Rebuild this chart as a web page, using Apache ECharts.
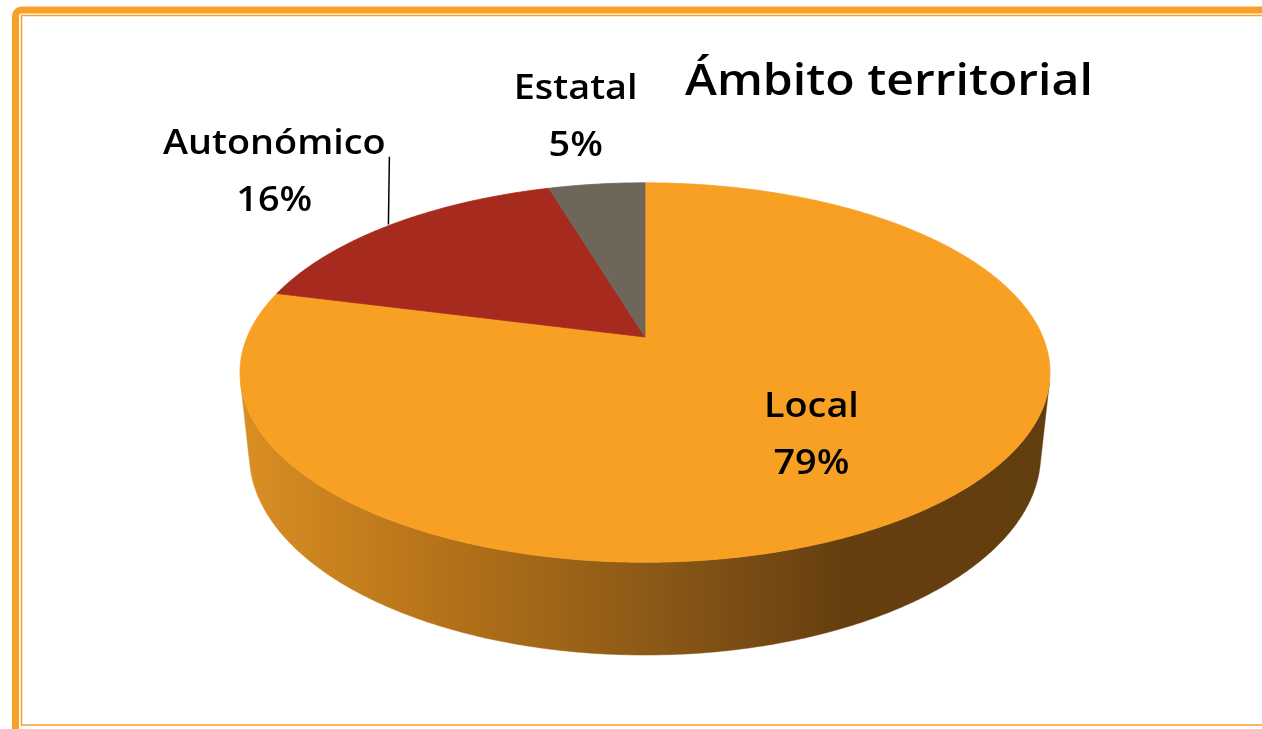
<!DOCTYPE html>
<html><head><meta charset="utf-8">
<script src="https://cdn.jsdelivr.net/npm/echarts@6/dist/echarts.min.js"></script>
<style>html,body{margin:0;padding:0;background:#fff}#c{width:1262px;height:729px}</style>
</head><body><div id="c"></div>
<script>
// ---- data ----
const categories = ['Local', 'Autonómico', 'Estatal'];
const values = [79.0, 16.4, 4.6];
const titleText = 'Ámbito territorial';

// ---- styles ----
const topColors = ['#f8a024', '#a62a1e', '#6e6659'];
const labelPlacement = { 'Local': { r: 0.62, leader: false }, 'Autonómico': { r: 1.555, leader: true }, 'Estatal': { r: 1.56, leader: false } };
const FONT = '"Open Sans", "DejaVu Sans", sans-serif';
const LABEL_SCALE_X = 1.08;
const TITLE_SCALE_X = 1.094;

// ---- perspective camera for the 3D pie ----
const CX = 645, CY = 337, F = 1886, DIST = 4.741, PHI = 27.4 * Math.PI / 180, DEPTH = 0.234;
const SP = Math.sin(PHI), CP = Math.cos(PHI);
function proj(theta, r, depth) {
  const u = r * Math.sin(theta), v = r * Math.cos(theta);
  const z = DIST + depth * SP + v * CP;
  return [CX + F * u / z, CY - F * (v * SP - depth * CP) / z];
}
const total = values.reduce((a, b) => a + b, 0);
const starts = [];
values.reduce((acc, v, i) => { starts[i] = acc; return acc + v; }, 0);
const VIS = Math.acos(-1 / (DIST * CP)); // generator visibility limit
const wallGradient = new echarts.graphic.LinearGradient(240, 0, 1050, 0, [
  { offset: 0, color: '#da8f24' },
  { offset: 0.25, color: '#b57218' },
  { offset: 0.5, color: '#8d5a17' },
  { offset: 0.74, color: '#663f10' },
  { offset: 1, color: '#623d0e' }
], true);

function arc(a0, a1, r, depth) {
  const pts = [];
  const n = Math.max(2, Math.ceil((a1 - a0) * 180 / Math.PI * 2));
  for (let k = 0; k <= n; k++) pts.push(proj(a0 + (a1 - a0) * k / n, r, depth));
  return pts;
}

function renderItem(params, api) {
  const i = params.dataIndex;
  const val = api.value(0);
  const a0 = starts[i] / total * 2 * Math.PI;
  const a1 = (starts[i] + val) / total * 2 * Math.PI;
  const children = [];
  // side wall
  const w0 = Math.max(a0, VIS), w1 = Math.min(a1, 2 * Math.PI - VIS);
  if (w1 > w0) {
    const pts = arc(w0, w1, 1, 0).concat(arc(w0, w1, 1, DEPTH).reverse());
    children.push({ type: 'polygon', shape: { points: pts }, style: { fill: wallGradient, stroke: wallGradient, lineWidth: 0.5 } });
  }
  // top face
  const topPts = [proj(0, 0, 0)].concat(arc(a0, a1, 1, 0));
  children.push({ type: 'polygon', shape: { points: topPts }, style: { fill: topColors[i], stroke: topColors[i], lineWidth: 0.8 } });
  // label
  const name = categories[i];
  const pl = labelPlacement[name];
  const mid = (a0 + a1) / 2;
  const lp = proj(mid, pl.r, 0);
  const pct = Math.round(val / total * 100);
  children.push({
    type: 'text', x: lp[0], y: lp[1], scaleX: LABEL_SCALE_X, z2: 10,
    style: { text: name + '\n' + pct + '%', fill: '#000', fontSize: 35, fontFamily: FONT, fontWeight: 600,
      align: 'center', verticalAlign: 'middle', lineHeight: 57 }
  });
  if (pl.leader) {
    const e = proj(mid, 1, 0);
    children.push({ type: 'line', shape: { x1: e[0] - 3, y1: e[1], x2: e[0] - 2, y2: lp[1] - 16 }, style: { stroke: '#000', lineWidth: 1.5 } });
  }
  return { type: 'group', children: children };
}

const chart = echarts.init(document.getElementById('c'), null, { renderer: 'canvas' });
chart.setOption({
  backgroundColor: '#ffffff',
  animation: false,
  graphic: [
    { type: 'rect', shape: { x: 15.5, y: 10, width: 1300, height: 780, r: 6 }, style: { fill: 'none', stroke: '#f8a12a', lineWidth: 7 } },
    { type: 'rect', shape: { x: 21.5, y: 15.5, width: 1300, height: 709.5 }, style: { fill: 'none', stroke: '#f8a12a', lineWidth: 1.5 } },
    { type: 'text', x: 889, y: 82, scaleX: TITLE_SCALE_X, style: { text: titleText, fill: '#000', fontSize: 44, fontFamily: FONT, fontWeight: 600, align: 'center', verticalAlign: 'middle' } }
  ],
  series: [{
    type: 'custom',
    coordinateSystem: 'none',
    data: values.map((v, i) => ({ name: categories[i], value: [v] })),
    renderItem: renderItem
  }]
});
</script></body></html>
